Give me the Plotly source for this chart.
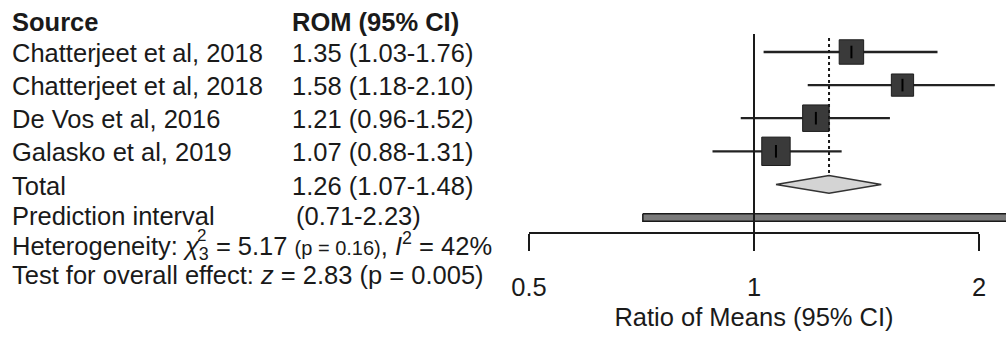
import math
import plotly.graph_objects as go

# ---------------- data ----------------
studies = ["Chatterjeet et al, 2018", "Chatterjeet et al, 2018",
           "De Vos et al, 2016", "Galasko et al, 2019"]
rom = [1.35, 1.58, 1.21, 1.07]
ci_low = [1.03, 1.18, 0.96, 0.88]
ci_high = [1.76, 2.10, 1.52, 1.31]
weights = [23, 19, 27, 31]          # relative study weights (box area)

total_est = 1.26
total_low = 1.07
total_high = 1.48
pi_low = 0.71
pi_high = 2.23

tick_vals = [0.5, 1, 2]
tick_text = ["0.5", "1", "2"]

# ---------------- layout helpers ----------------
W, H = 1006, 341
FONT = "Liberation Sans, Arial, sans-serif"
TXT = "#1a1a1a"


def px(x):
    return x / W


def py(y):
    return 1 - y / H


rows = [1, 2, 3, 4]
row_total = 5
row_pi = 6
row_px0, row_step = 52, 33.1
y_top = 1 - row_px0 / row_step
y_bot = 1 + (H - row_px0) / row_step

# x scale: 0.5 -> 529px, 2 -> 979px
x_left = math.log10(2) * (-754 / 225)
x_right = math.log10(2) * ((W - 754) / 225)

fig = go.Figure()

# CI lines
cx, cy = [], []
for lo, hi, r in zip(ci_low, ci_high, rows):
    cx += [lo, hi, None]
    cy += [r, r, None]
fig.add_trace(go.Scatter(x=cx, y=cy, mode="lines",
                         line=dict(color="#222222", width=2.3),
                         hoverinfo="skip", showlegend=False))

# squares
sizes = [5.1 * math.sqrt(w) for w in weights]
fig.add_trace(go.Scatter(x=rom, y=rows, mode="markers",
                         marker=dict(symbol="square", size=sizes, color="#3a3a3a",
                                     opacity=1,
                                     line=dict(color="#1e1e1e", width=1)),
                         hoverinfo="skip", showlegend=False))
fig.add_trace(go.Scatter(x=rom, y=rows, mode="markers",
                         marker=dict(symbol="line-ns", size=9, opacity=1,
                                     line=dict(color="#000000", width=2)),
                         hoverinfo="skip", showlegend=False))

# diamond
dh = 0.27
fig.add_trace(go.Scatter(
    x=[total_low, total_est, total_high, total_est, total_low],
    y=[row_total, row_total - dh, row_total, row_total + dh, row_total],
    mode="lines", fill="toself", fillcolor="#d4d4d4",
    line=dict(color="#333333", width=1.5),
    hoverinfo="skip", showlegend=False))

# prediction interval bar
ph = 0.11
fig.add_trace(go.Scatter(
    x=[pi_low, pi_high, pi_high, pi_low, pi_low],
    y=[row_pi - ph, row_pi - ph, row_pi + ph, row_pi + ph, row_pi - ph],
    mode="lines", fill="toself", fillcolor="#7a7a7a",
    line=dict(color="#1a1a1a", width=1.5),
    hoverinfo="skip", showlegend=False))

# invisible trace for the visible axis
fig.add_trace(go.Scatter(x=tick_vals, y=[None] * len(tick_vals), xaxis="x2", yaxis="y",
                         mode="markers", marker=dict(opacity=0),
                         hoverinfo="skip", showlegend=False))

# reference lines
fig.add_shape(type="line", xref="x", yref="paper", x0=1, x1=1,
              y0=py(34), y1=py(233), line=dict(color="#1a1a1a", width=2))
fig.add_shape(type="line", xref="x", yref="paper", x0=total_est, x1=total_est,
              y0=py(38), y1=py(174), line=dict(color="#1a1a1a", width=2, dash="dot"))

# ---------------- text ----------------
def txt(x, y, s, size=25.5, anchor="left"):
    fig.add_annotation(x=px(x), y=py(y), xref="paper", yref="paper", text=s,
                       showarrow=False, xanchor=anchor, yanchor="middle",
                       font=dict(family=FONT, size=size, color=TXT))


txt(10, 22, "<b>Source</b>")
txt(290, 22, "<b>ROM (95% CI)</b>")
row_y = [53, 86, 119, 152]
for name, e, lo, hi, yy in zip(studies, rom, ci_low, ci_high, row_y):
    txt(10, yy, name)
    txt(290, yy, f"{e:.2f} ({lo:.2f}-{hi:.2f})")
txt(10, 186, "Total")
txt(290, 186, f"{total_est:.2f} ({total_low:.2f}-{total_high:.2f})")
txt(10, 216, "Prediction interval")
txt(294, 216, f"({pi_low:.2f}-{pi_high:.2f})")
txt(10, 246, "Heterogeneity: <i>χ</i><sub>3</sub> = 5.17 "
             "<span style='font-size:20px'>(p = 0.16)</span>, <i>I</i><sup>2</sup> = 42%")
txt(195, 235, "2", size=17)
txt(10, 275, "Test for overall effect: <i>z</i> = 2.83 (p = 0.005)")

fig.update_layout(
    width=W, height=H,
    margin=dict(l=0, r=0, t=0, b=0, autoexpand=False),
    paper_bgcolor="white", plot_bgcolor="rgba(0,0,0,0)",
    xaxis=dict(type="log", range=[x_left, x_right], domain=[0, 1],
               visible=False, fixedrange=True, automargin=False),
    yaxis=dict(range=[y_bot, y_top], domain=[0, 1], visible=False, fixedrange=True,
               automargin=False),
    xaxis2=dict(type="log", range=[math.log10(0.5), math.log10(2)],
                domain=[px(529), px(979)], anchor="free", position=py(233),
                showline=True, linecolor="#1a1a1a", linewidth=2,
                ticks="outside", ticklen=17, tickwidth=2, tickcolor="#1a1a1a",
                tickvals=tick_vals, ticktext=tick_text, showgrid=False, zeroline=False,
                ticklabelstandoff=14,
                tickfont=dict(family=FONT, size=25.5, color=TXT),
                title=dict(text="Ratio of Means (95% CI)", standoff=8,
                           font=dict(family=FONT, size=25.5, color=TXT)),
                automargin=False, fixedrange=True),
    showlegend=False,
)

fig.write_html("out.html")
